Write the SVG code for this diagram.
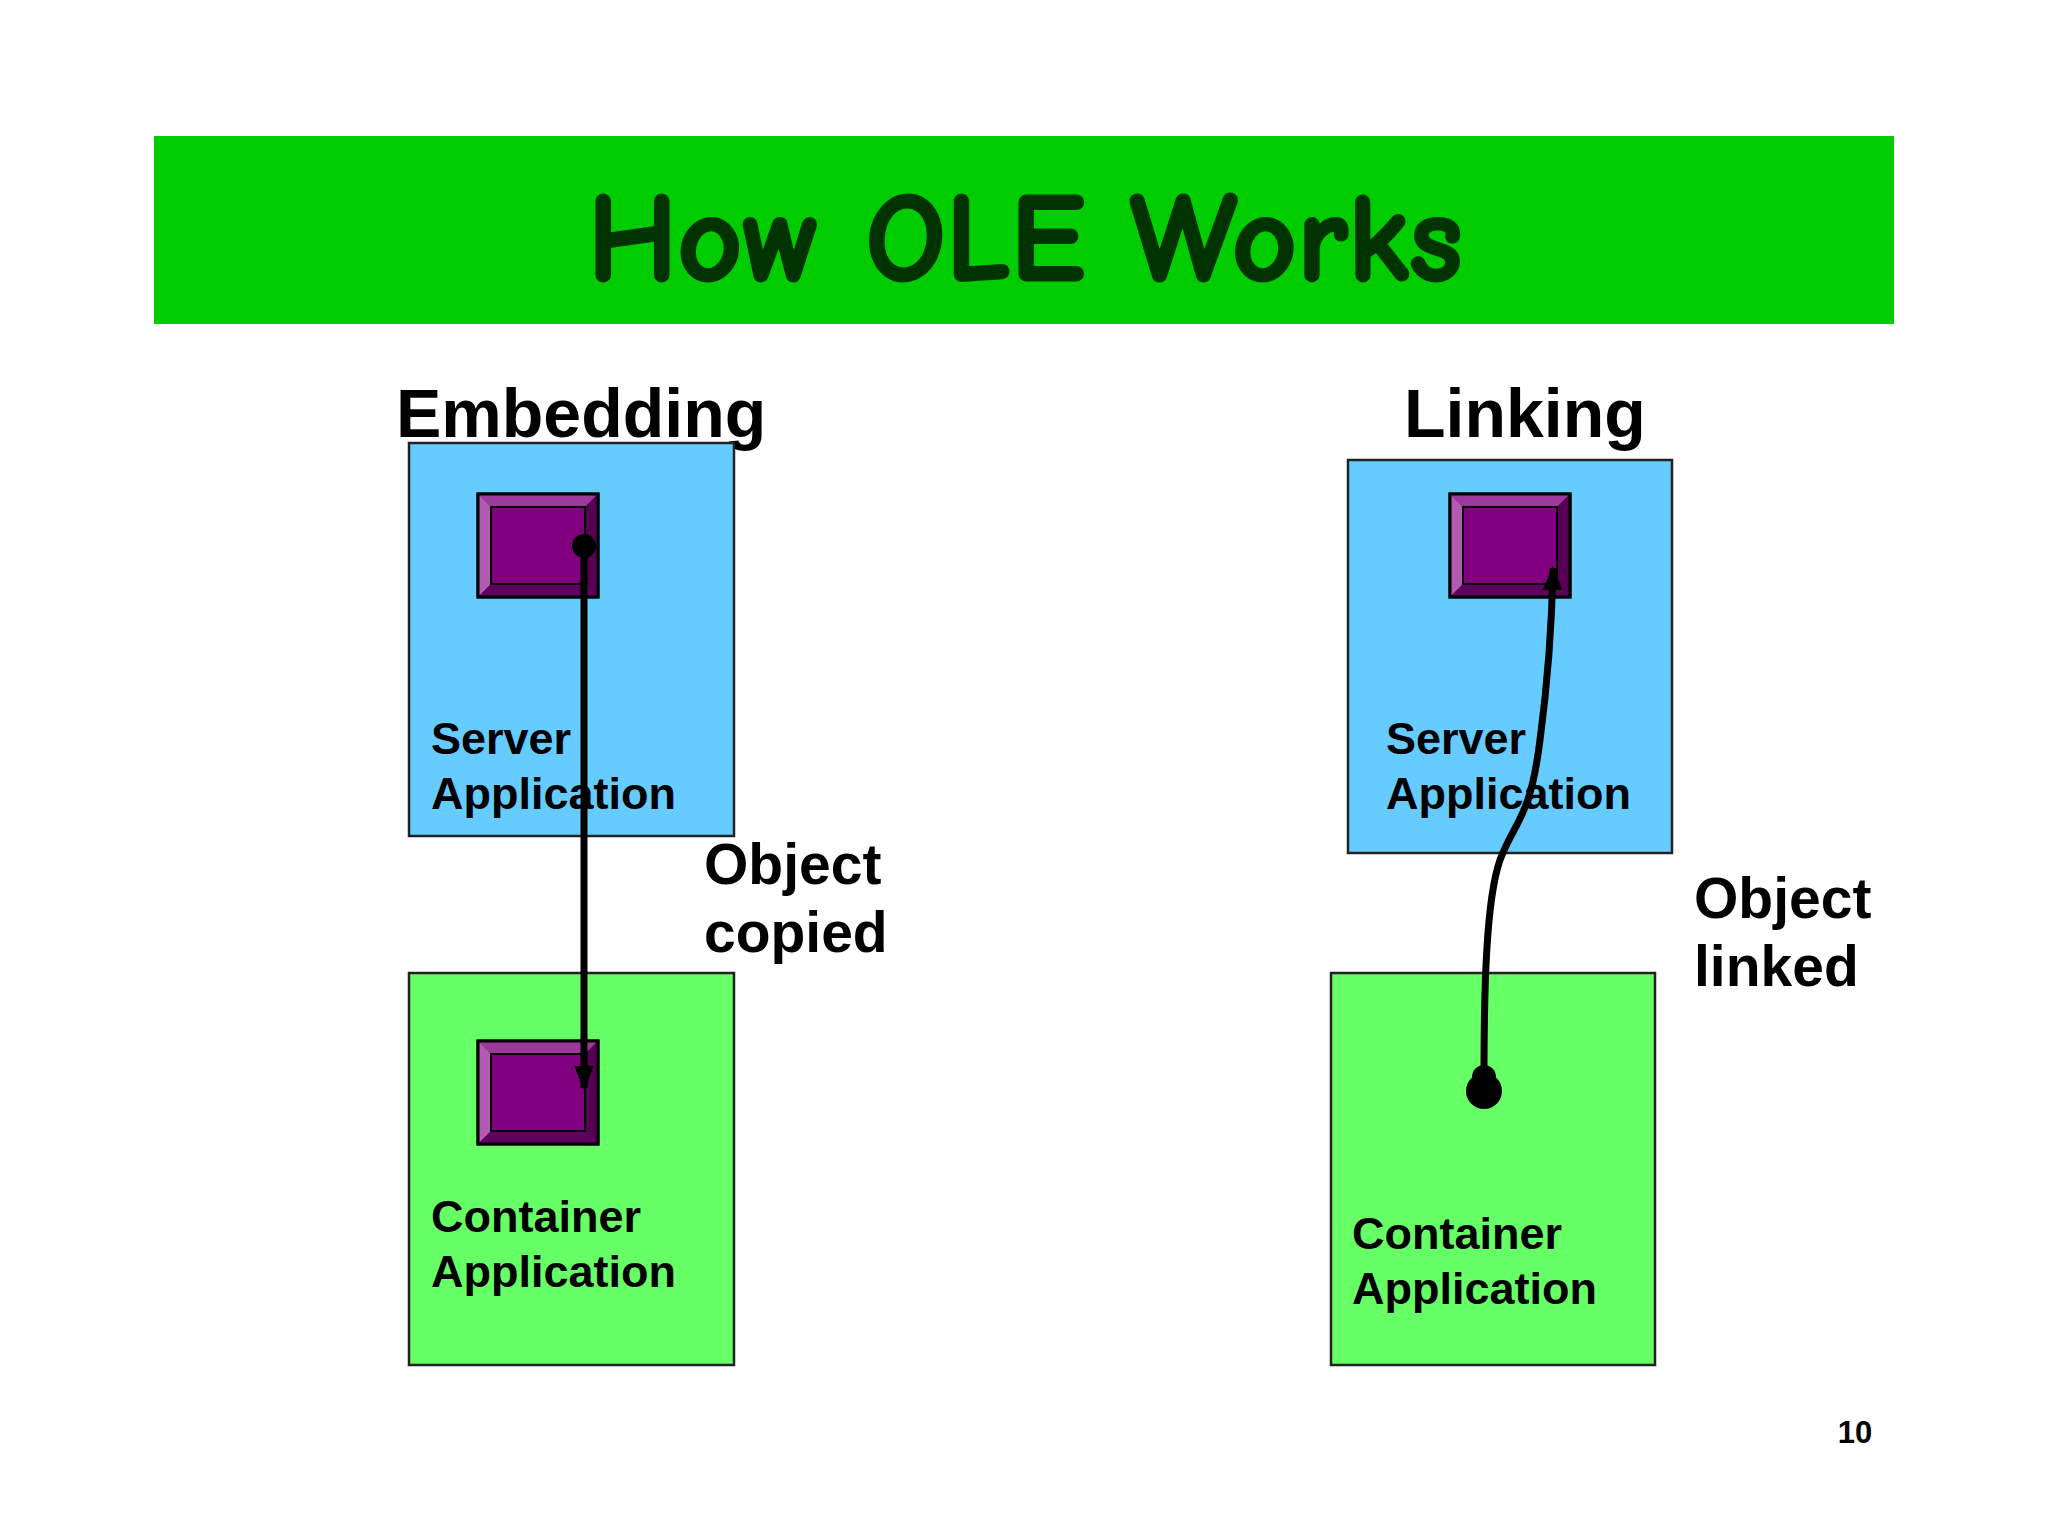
<svg xmlns="http://www.w3.org/2000/svg" width="2048" height="1536" viewBox="0 0 2048 1536">
<defs>
<style>
.t{font-family:"Liberation Sans",Arial,sans-serif;font-weight:bold;fill:#000}
.box{stroke:#222;stroke-width:2.5}
.ln{fill:none;stroke:#000;stroke-width:7}
</style>
<marker id="ah" viewBox="0 0 10 10" refX="9" refY="5" markerWidth="3.5" markerHeight="3.5" orient="auto" markerUnits="strokeWidth"><path d="M0,1 L10,5 L0,9 z" fill="#000"/></marker>
<g id="obj">
<rect x="0" y="0" width="120" height="103" fill="#7a007a" stroke="#000" stroke-width="3"/>
<polygon points="0,0 120,0 107,13 13,13" fill="#9b3a9b"/>
<polygon points="0,0 13,13 13,90 0,103" fill="#b05cb0"/>
<polygon points="120,0 120,103 107,90 107,13" fill="#550055"/>
<polygon points="0,103 13,90 107,90 120,103" fill="#5e005e"/>
<rect x="0" y="0" width="120" height="103" fill="none" stroke="#000" stroke-width="3"/>
<rect x="13" y="13" width="94" height="77" fill="#800080" stroke="#000" stroke-width="2"/>
</g>
</defs>
<rect width="2048" height="1536" fill="#fff"/>
<g id="title">
<rect x="154" y="136" width="1740" height="188" fill="#00cc00"/>
<text x="1025" y="280" text-anchor="middle" font-family="Comic Neue,'Liberation Sans',sans-serif" font-weight="bold" font-size="126" fill="#003300" stroke="#003300" stroke-width="3">How OLE Works</text>
</g>
<text class="t" x="396" y="437" font-size="68">Embedding</text>
<text class="t" x="1404" y="437" font-size="68">Linking</text>
<g id="server1"><rect class="box" x="409" y="443" width="325" height="393" fill="#66ccff"/><use href="#obj" x="478" y="494"/>
<text class="t" x="431" y="754" font-size="45">Server</text><text class="t" x="431" y="809" font-size="45">Application</text></g>
<g id="container1"><rect class="box" x="409" y="973" width="325" height="392" fill="#66ff66"/><use href="#obj" x="478" y="1041"/>
<text class="t" x="431" y="1232" font-size="45">Container</text><text class="t" x="431" y="1287" font-size="45">Application</text></g>
<g id="server2"><rect class="box" x="1348" y="460" width="324" height="393" fill="#66ccff"/><use href="#obj" x="1450" y="494"/>
<text class="t" x="1386" y="754" font-size="45">Server</text><text class="t" x="1386" y="809" font-size="45">Application</text></g>
<g id="container2"><rect class="box" x="1331" y="973" width="324" height="392" fill="#66ff66"/>
<text class="t" x="1352" y="1249" font-size="45">Container</text><text class="t" x="1352" y="1304" font-size="45">Application</text></g>
<g id="connectors">
<circle cx="584" cy="546" r="12"/>
<path class="ln" d="M584,546 L584,1088" marker-end="url(#ah)"/>
<circle cx="1484" cy="1091" r="18"/><circle cx="1484" cy="1077" r="12"/>
<path class="ln" d="M1484,1077 C1484,990 1486,900 1500,860 C1515,820 1530,820 1540,740 C1548,680 1552,620 1553,568" marker-end="url(#ah)"/>
</g>
<text class="t" x="704" y="884" font-size="57">Object</text><text class="t" x="704" y="952" font-size="57">copied</text>
<text class="t" x="1694" y="918" font-size="57">Object</text><text class="t" x="1694" y="986" font-size="57">linked</text>
<text class="t" x="1855" y="1443" font-size="31" text-anchor="middle">10</text>
</svg>
